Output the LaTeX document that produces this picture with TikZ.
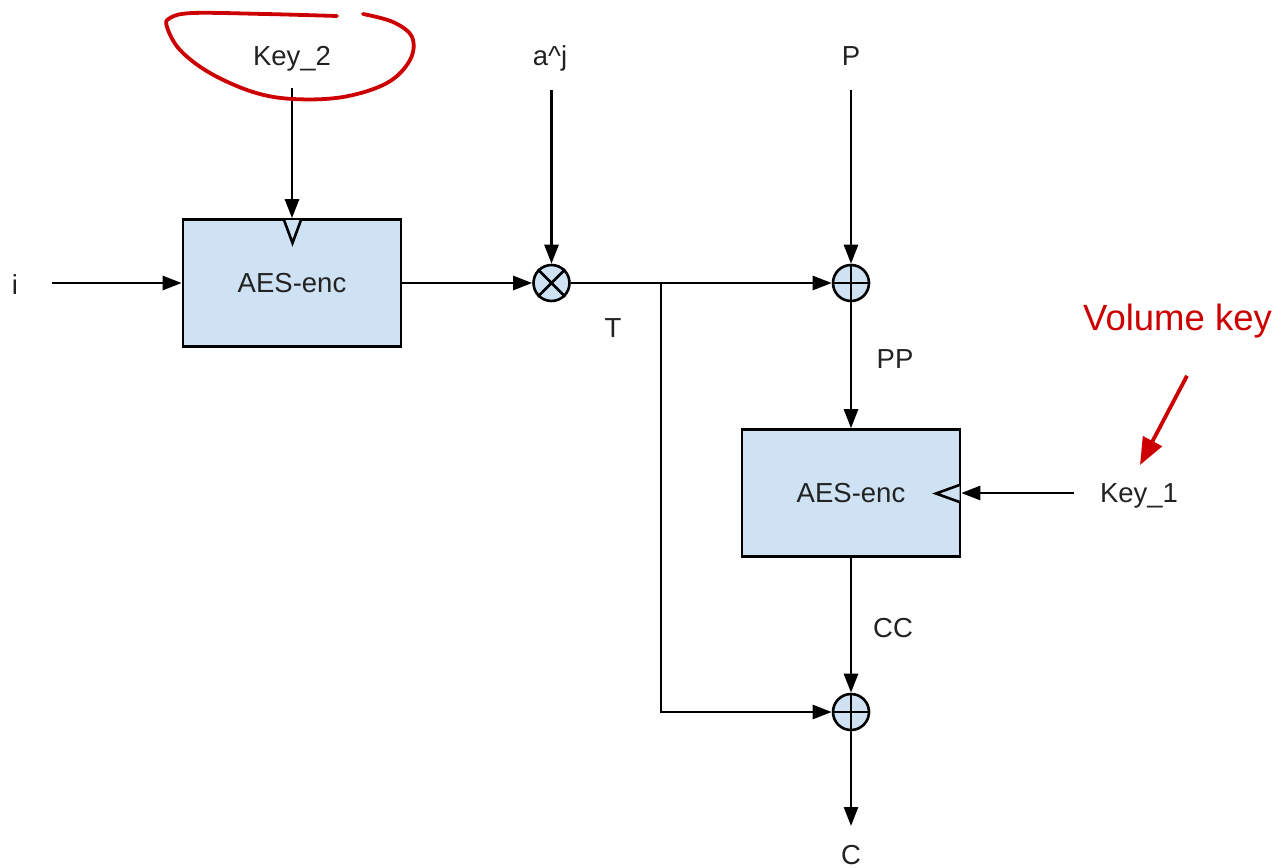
\documentclass[tikz,border=0pt]{standalone}
\usepackage{fontspec}
\setmainfont{Liberation Sans}
\usetikzlibrary{arrows.meta}
\definecolor{boxfill}{HTML}{CFE2F3}
\definecolor{ink}{HTML}{222222}
\definecolor{redink}{HTML}{CC0000}
\begin{document}
\begin{tikzpicture}[x=1pt,y=-1pt,
  lbl/.style={font=\fontsize{27.5}{30}\selectfont, text=ink, inner sep=0pt, outer sep=0pt,
              anchor=base, text height=20pt, text depth=6pt},
  aes/.style={draw=black, line width=2.6pt, fill=boxfill, minimum width=218pt, minimum height=127pt,
              inner sep=0pt, font=\fontsize{27.5}{30}\selectfont, text=ink},
  mix/.style={circle, draw=black, line width=2.6pt, fill=boxfill, minimum size=36pt, inner sep=0pt},
  ln/.style={draw=black, line width=2.6pt},
  arr/.style={ln, -{Triangle[length=19pt,width=14pt]}},
  keymark/.style={draw=black, line width=2.6pt, fill=boxfill, line join=miter},
  redarr/.style={draw=redink, line width=3.8pt, -{Triangle[length=27pt,width=21pt]}},
  redlbl/.style={font=\fontsize{36.5}{40}\selectfont, text=redink, inner sep=0pt, anchor=base}
]
\useasboundingbox (0,0) rectangle (1286,868);

% labels
\node[lbl] (key2) at (292,65) {Key\_2};
\node[lbl] (aj)   at (550,65) {a\^{}j};
\node[lbl] (P)    at (851,65) {P};
\node[lbl] (i)    at (15,294) {i};
\node[lbl] (T)    at (613,337) {T};
\node[lbl] (PP)   at (895,368) {PP};
\node[lbl] (key1) at (1139,502) {Key\_1};
\node[lbl] (CC)   at (893,637) {CC};
\node[lbl] (C)    at (851,864) {C};

% blocks
\node[aes] (enc1) at (292,283) {AES-enc};
\node[aes] (enc2) at (851,493) {AES-enc};

% key input markers
\draw[keymark] (284,220) -- (292.5,243) -- (301,220);
\draw[keymark] (959.5,485) -- (936,493.5) -- (959.5,502);

% combiners
\node[mix] (mul)  at (551.5,283) {};
\draw[ln] (mul.north west) -- (mul.south east) (mul.north east) -- (mul.south west);
\node[mix] (add1) at (851,283) {};
\draw[ln] (add1.north) -- (add1.south) (add1.west) -- (add1.east);
\node[mix] (add2) at (851,712) {};
\draw[ln] (add2.north) -- (add2.south) (add2.west) -- (add2.east);

% connectors
\draw[arr, shorten <=17pt] (key2.south) -- (enc1.north);
\draw[arr, shorten <=34pt] (enc1.west -| i.east) -- (enc1.west);
\draw[arr] (enc1.east) -- (mul.west);
\draw[arr, shorten <=19pt] (mul.north |- aj.south) -- (mul.north);
\draw[arr] (mul.east) -- (add1.west);
\draw[arr, shorten <=19pt] (P.south) -- (add1.north);
\draw[arr] (add1.south) -- (enc2.north);
\draw[arr, shorten <=26pt] (enc2.east -| key1.west) -- (enc2.east);
\draw[arr] (enc2.south) -- (add2.north);
\draw[arr, shorten >=18pt] (add2.south) -- (C.north);
\coordinate (tj) at (661,283);
\draw[arr] (tj) |- (add2.west);

% red annotations
\draw[redink, line width=3.8pt, line cap=round] plot[smooth, tension=0.6] coordinates {
  (337,16) (265,14) (193,13) (170,18) (167,27) (180,50) (210,73) (253,92) (293,99)
  (343,97) (387,83) (410,60) (412,37) (393,22) (363,14)};
\node[redlbl] (vk) at (1177.5,330) {Volume key};
\draw[redarr] ([xshift=9.5pt,yshift=-38pt]vk.south) -- ([xshift=1pt,yshift=17pt]key1.north);
\end{tikzpicture}
\end{document}
